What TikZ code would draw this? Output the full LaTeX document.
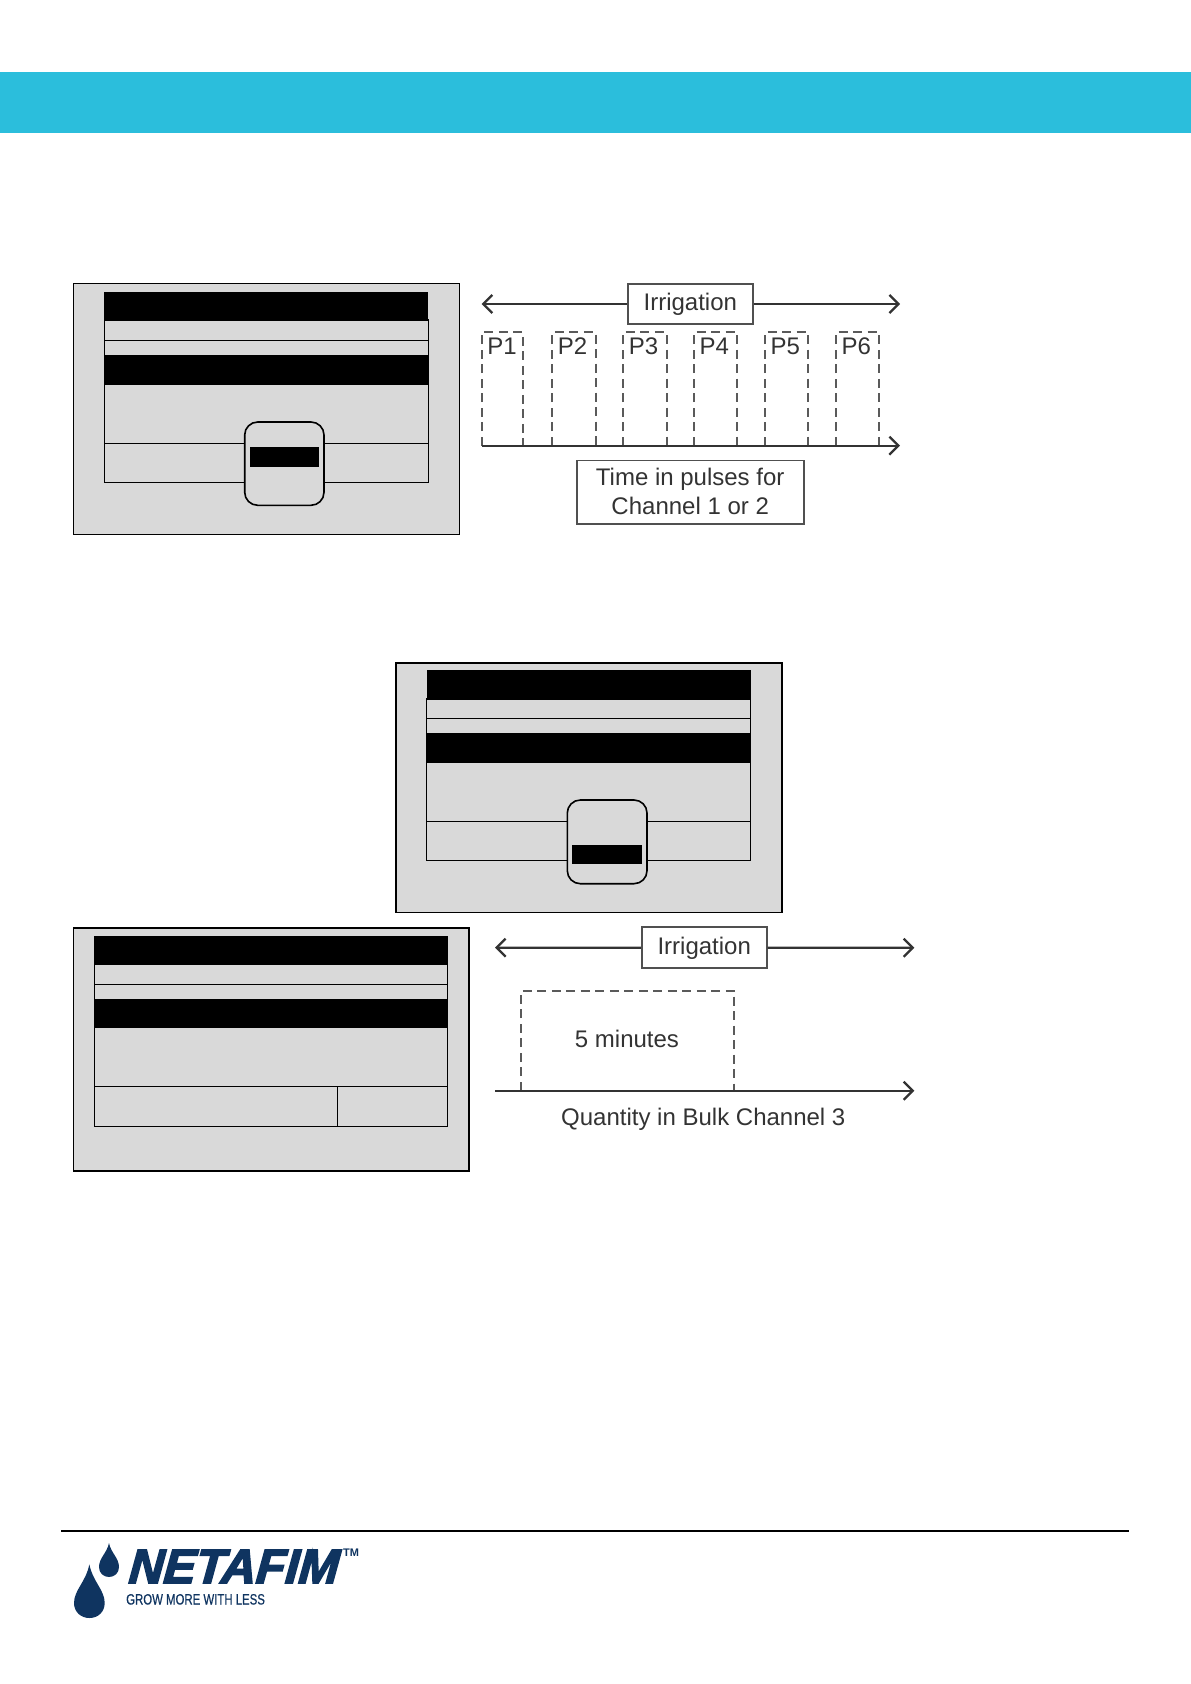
\documentclass[tikz,border=0pt]{standalone}
\usepackage{fontspec}
\usetikzlibrary{arrows.meta}
\setmainfont{Liberation Sans}
\newfontfamily\logofont[FakeBold=3.5, FakeSlant=0.08]{Liberation Sans Bold Italic}
\newfontfamily\tagfont[FakeStretch=0.76, FakeBold=0.5]{Liberation Sans}
\definecolor{band}{HTML}{2BBEDC}
\definecolor{screengray}{HTML}{D9D9D9}
\definecolor{netablue}{HTML}{0F3460}
\definecolor{inkgray}{HTML}{333333}
\definecolor{boxgray}{HTML}{505050}
\definecolor{dashgray}{HTML}{5A5A5A}
\tikzset{
   panel/.style={draw=black, fill=screengray, line width=1.6pt},
   bar/.style={fill=black},
   rowline/.style={draw=black, line width=1.4pt},
   softkey/.style={panel, rounded corners=13pt, line width=1.6pt},
   label/.style={text=inkgray, font=\fontsize{24}{29}\selectfont, inner sep=0pt},
   tagbox/.style={draw=boxgray, fill=white, line width=1.7pt, text=inkgray, align=center,
                  font=\fontsize{24}{29}\selectfont},
   axis/.style={draw=inkgray, line width=2.3pt, -{Straight Barb[length=9pt,width=18pt]}},
   pulse/.style={draw=dashgray, line width=1.8pt, dash pattern=on 9pt off 5.5pt}
}
\begin{document}
\begin{tikzpicture}[x=1pt, y=-1pt]
 \useasboundingbox (0,0) rectangle (1191,1684);
 \fill[band] (0,72) rectangle (1191,133);

 % first screen
 \draw[panel] (73.3,283.3) rectangle (459.3,534.3);
 \draw[rowline] (104.3,320) rectangle (428.3,482.3);
 \draw[rowline] (104.3,340.3) -- (428.3,340.3);
 \draw[rowline] (104.3,443.3) -- (428.3,443.3);
 \fill[bar] (104,292) rectangle (428,320);
 \fill[bar] (104,355) rectangle (428.7,385);
 \draw[softkey] (244.7,422) rectangle (324,505.3);
 \fill[bar] (250,447) rectangle (319,467);

 % pulses
 \node (irrigationA) [tagbox, text height=17.5pt, text depth=4.5pt, minimum width=125.3pt, minimum height=40pt] at (690.3,304) {Irrigation};
 \coordinate (leftA) at (481.7,304);
 \coordinate (rightA) at (900,304);
 \draw[axis] (irrigationA.west) -- (leftA);
 \draw[axis] (irrigationA.east) -- (rightA);
 \foreach \n/\xa/\xb in {1/481.7/523.3, 2/552.3/596, 3/623.3/666.7, 4/694/737.3, 5/765/808.3, 6/836/879} {
   \draw[pulse] (\xa,445.7) -- (\xa,332.3) -- (\xb,332.3) -- (\xb,445.7);
   \node (p\n) [label, anchor=base] at (\xa+20.3,354.6) {P\n};
 }
 \coordinate (startA) at (481.7,445.7);
 \coordinate (endA) at (900,445.7);
 \draw[axis] (startA) -- (endA);
 \node (pulsetime) [tagbox, minimum width=227pt, minimum height=63.7pt] at (690.2,492.2) {Time in pulses for\\Channel 1 or 2\rule[-2pt]{0pt}{2pt}};

 % second screen
 \draw[panel] (395.7,662.7) rectangle (781.7,912.3);
 \draw[rowline] (426.3,699) rectangle (750.3,860.3);
 \draw[rowline] (426.3,718.3) -- (750.3,718.3);
 \draw[rowline] (426.3,821.3) -- (750.3,821.3);
 \fill[bar] (427,670) rectangle (751,699);
 \fill[bar] (426.3,733) rectangle (750.3,763);
 \draw[softkey] (567.3,800) rectangle (647,883.7);
 \fill[bar] (572,845) rectangle (642,864);

 % third screen
 \draw[panel] (73.3,927.7) rectangle (468.7,1170.7);
 \draw[rowline] (94.3,964) rectangle (447.3,1126.3);
 \draw[rowline] (94.3,984.3) -- (447.3,984.3);
 \draw[rowline] (94.3,1086.3) -- (447.3,1086.3);
 \draw[rowline] (337.3,1086.3) -- (337.3,1126.3);
 \fill[bar] (94.3,936) rectangle (448,964);
 \fill[bar] (94.3,998.7) rectangle (447.3,1028);

 % bulk
 \node (irrigationB) [tagbox, text height=17.5pt, text depth=4.5pt, minimum width=125pt, minimum height=41pt] at (704.2,947.8) {Irrigation};
 \coordinate (leftB) at (495,947.7);
 \coordinate (rightB) at (914.3,947.7);
 \draw[axis] (irrigationB.west) -- (leftB);
 \draw[axis] (irrigationB.east) -- (rightB);
 \draw[pulse] (521.3,1090.7) -- (521.3,990.7) -- (734.3,990.7) -- (734.3,1090.7);
 \coordinate (startB) at (495,1090.7);
 \coordinate (endB) at (914.3,1090.7);
 \draw[axis] (startB) -- (endB);
 \node (bulktime) [label] at (627,1039.3) {5 minutes};
 \node (bulkname) [label] at (703.3,1119.5) {Quantity in Bulk Channel 3};

 % footer
 \draw[line width=1.8pt] (61,1531) -- (1129,1531);
 \fill[netablue] (89.3,1564.3) .. controls (86,1582) and (74,1590) .. (74,1603)
    .. controls (74,1612) and (81,1618) .. (89.3,1618)
    .. controls (98,1618) and (104.7,1612) .. (104.7,1603)
    .. controls (104.7,1590) and (93,1582) .. (89.3,1564.3) -- cycle;
 \fill[netablue] (109,1543) .. controls (107,1553) and (99,1558) .. (99,1567)
    .. controls (99,1573) and (103.5,1577) .. (109,1577)
    .. controls (114.5,1577) and (119,1573) .. (119,1567)
    .. controls (119,1558) and (111,1553) .. (109,1543) -- cycle;
 \node (logo) [text=netablue, inner sep=0pt, anchor=base west, font=\logofont\fontsize{48}{48}\selectfont] at (128,1583) {NETAFIM};
 \node (trademark) [text=netablue, inner sep=0pt, anchor=base west, font=\fontsize{11}{11}\selectfont\bfseries] at (343,1556) {TM};
 \node (tagline) [text=netablue, inner sep=0pt, anchor=base west, font=\tagfont\fontsize{15}{15}\selectfont] at (126,1604.5) {GROW MORE WITH LESS};
\end{tikzpicture}
\end{document}
